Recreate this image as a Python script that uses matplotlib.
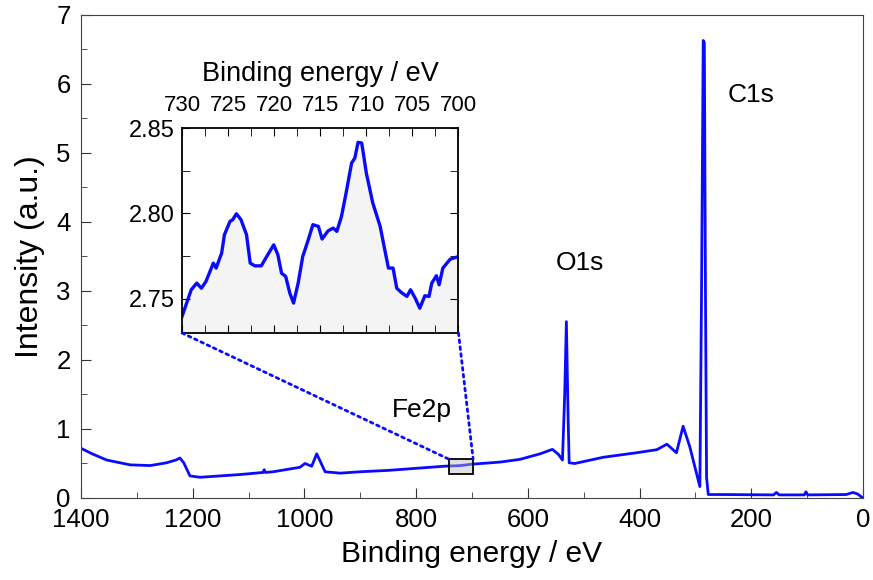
import matplotlib
matplotlib.use("Agg")
import matplotlib.pyplot as plt
from matplotlib.patches import Rectangle, ConnectionPatch
from matplotlib.ticker import MultipleLocator

plt.rcParams['font.family'] = ['Liberation Sans', 'DejaVu Sans']

#%%
# Survey spectrum
energy = [1400, 1380, 1354, 1312, 1276, 1247, 1230, 1223, 1216, 1205, 1187,
          1115, 1074, 1072, 1070, 1056, 1008, 999, 987, 978, 963, 936, 900,
          850, 800, 750, 720, 700, 650, 614, 578, 556, 545, 538, 534, 531,
          528, 526, 516, 465, 405, 369, 351, 334, 322, 310, 292, 289, 286,
          284, 282, 280, 277, 250, 160, 155, 150, 105, 102, 99, 30, 18, 10, 0]
intensity = [0.72, 0.64, 0.55, 0.48, 0.47, 0.51, 0.55, 0.58, 0.51, 0.32, 0.30,
             0.34, 0.37, 0.41, 0.37, 0.38, 0.445, 0.50, 0.46, 0.64, 0.38, 0.36, 0.38,
             0.40, 0.43, 0.46, 0.47, 0.49, 0.52, 0.56, 0.64, 0.705, 0.63, 0.55, 1.5, 2.555,
             1.2, 0.51, 0.50, 0.59, 0.656, 0.70, 0.78, 0.656, 1.04, 0.74, 0.165, 3.0, 6.63,
             6.6, 3.0, 0.3, 0.05, 0.05, 0.045, 0.08, 0.045, 0.045, 0.09, 0.045, 0.05, 0.08, 0.06, 0.0]

# Fe2p region, zoomed
fe_energy = [730, 729.5, 729.0, 728.4, 727.9, 727.4, 726.6, 726.3, 725.7, 725.4,
             724.8, 724.5, 724.1, 723.6, 723.0, 722.6, 722.1, 721.4, 720.7, 720.05,
             719.6, 719.2, 718.75, 718.3, 717.9, 717.4, 716.9, 716.3, 715.8, 715.2,
             714.8, 714.15, 713.6, 713.2, 712.7, 712.2, 711.6, 711.25, 710.9, 710.5,
             710.0, 709.3, 708.5, 708.0, 707.6, 707.1, 706.7, 706.2, 705.6, 705.2,
             704.7, 704.2, 703.65, 703.2, 702.9, 702.4, 702.1, 701.7, 700.9, 700]
fe_intensity = [2.7397, 2.7475, 2.7553, 2.7592, 2.7562, 2.7602, 2.7709, 2.768, 2.7768, 2.7875,
                2.7953, 2.7963, 2.7998, 2.7963, 2.7875, 2.7709, 2.7693, 2.7693, 2.7758, 2.7816,
                2.7758, 2.765, 2.7631, 2.7533, 2.7475, 2.7592, 2.7748, 2.7846, 2.7934, 2.7924,
                2.785, 2.7898, 2.7914, 2.7895, 2.7982, 2.8119, 2.8295, 2.8324, 2.8416, 2.8412,
                2.8236, 2.8061, 2.7924, 2.7787, 2.768, 2.768, 2.7562, 2.7537, 2.7514, 2.7553,
                2.7504, 2.7445, 2.7518, 2.7514, 2.7592, 2.7635, 2.7582, 2.768, 2.7732, 2.7748]

peak_labels = ['C1s', 'O1s', 'Fe2p']
peak_pos = [(243, 5.84), (550, 3.41), (843, 1.28)]

zoom_box = (742, 698, 0.35, 0.565)  # E_left, E_right, y_low, y_high

blue = '#0a0aff'

#%%
fig = plt.figure(figsize=(8.73, 5.80), dpi=100)
ax = fig.add_axes([0.0928, 0.1414, 0.8957, 0.8328])

ax.plot(energy, intensity, color=blue, lw=2)
ax.set_xlim(1400, 0)
ax.set_ylim(0, 7)
ax.xaxis.set_major_locator(MultipleLocator(200))
ax.xaxis.set_minor_locator(MultipleLocator(100))
ax.yaxis.set_major_locator(MultipleLocator(1))
ax.yaxis.set_minor_locator(MultipleLocator(0.5))
ax.tick_params(which='both', direction='in', labelsize=18.5, color='#333333')
ax.tick_params(which='major', length=7)
ax.tick_params(which='minor', length=4)
ax.tick_params(axis='x', pad=7)
ax.tick_params(axis='y', pad=7.5)
for s in ax.spines.values():
    s.set_color('#444444')
ax.set_xlabel('Binding energy / eV', fontsize=21.5, labelpad=6)
ax.set_ylabel('Intensity (a.u.)', fontsize=23, labelpad=8)

for lab, (x, y) in zip(peak_labels, peak_pos):
    ax.text(x, y, lab, fontsize=19, ha='left', va='center')

x0, x1, y0, y1 = zoom_box
ax.add_patch(Rectangle((x0, y0), x1 - x0, y1 - y0, facecolor='#bbbbbb', alpha=0.45,
                       edgecolor='none', zorder=3))
ax.add_patch(Rectangle((x0, y0), x1 - x0, y1 - y0, facecolor='none',
                       edgecolor='black', lw=1.3, zorder=4))

#%%
ins = fig.add_axes([0.2085, 0.4259, 0.3167, 0.3534])
ins.fill_between(fe_energy, fe_intensity, 2.730, color='#f4f4f4')
ins.plot(fe_energy, fe_intensity, color=blue, lw=2.4)
ins.set_xlim(730, 700)
ins.set_ylim(2.730, 2.85)
ins.xaxis.set_major_locator(MultipleLocator(5))
ins.xaxis.set_minor_locator(MultipleLocator(2.5))
ins.yaxis.set_major_locator(MultipleLocator(0.05))
ins.yaxis.set_minor_locator(MultipleLocator(0.025))
ins.yaxis.set_major_formatter(plt.FormatStrFormatter('%.2f'))
ins.xaxis.tick_top()
ins.xaxis.set_label_position('top')
ins.tick_params(which='both', direction='in', top=True, bottom=True, left=True, right=True)
ins.tick_params(which='major', length=6)
ins.tick_params(which='minor', length=6)
ins.tick_params(axis='x', labelsize=16, pad=9)
ins.tick_params(axis='y', labelsize=17, pad=5)
for s in ins.spines.values():
    s.set_linewidth(1.3)
ins.set_xlabel('Binding energy / eV', fontsize=19.5, labelpad=10)

for xa, xb in [((0, 0), (x0, y1)), ((1, 0), (x1, y1))]:
    con = ConnectionPatch(xyA=xa, coordsA=ins.transAxes, xyB=xb, coordsB=ax.transData,
                          color=blue, lw=2, linestyle=(0, (1, 1.5)))
    fig.add_artist(con)

fig.savefig('out.png', dpi=100)
